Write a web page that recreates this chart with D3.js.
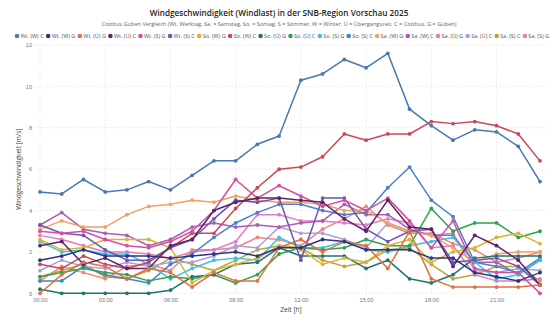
<!DOCTYPE html>
<html>
<head>
<meta charset="utf-8">
<script src="https://cdn.jsdelivr.net/npm/d3@7"></script>
<style>
  html, body { margin: 0; padding: 0; background: #fff; }
  svg { display: block; font-family: "Segoe UI", "Open Sans", "Noto Sans", sans-serif; }
</style>
</head>
<body>
<div class="chart"></div>
<script>
const hours = d3.range(24);
const hourLabels = ["00:00", "03:00", "06:00", "09:00", "12:00", "15:00", "18:00", "21:00"];
const yTicks = [0, 2, 4, 6, 8, 10, 12];

const seriesNames = [
    "Wt. (W) C", "Wt. (W) G", "Wt. (Ü) G", "Wt. (Ü) C", "Wt. (S) G", "Wt. (S) C",
    "So. (W) G", "So. (W) C", "So. (Ü) G", "So. (Ü) C", "So. (S) G", "So. (S) C",
    "Sa. (W) G", "Sa. (W) C", "Sa. (Ü) G", "Sa. (Ü) C", "Sa. (S) C", "Sa. (S) G"
];

const colors = [
    "#4878b4", "#2c3582", "#e07040", "#5c2468", "#d64f9e", "#6f55b0",
    "#dcb435", "#cf4655", "#26736e", "#2ea44c", "#3cc0e6", "#4a80cc",
    "#f2a064", "#ac5cb4", "#e878c0", "#aaa0e0", "#c2a232", "#f08484"
];

const wtWC = [4.9, 4.8, 5.5, 4.9, 5.0, 5.4, 5.0, 5.7, 6.4, 6.4, 7.2, 7.6, 10.3, 10.6, 11.3, 10.9, 11.6, 8.9, 8.1, 7.4, 7.9, 7.8, 7.1, 5.4];
const wtWG = [1.6, 1.8, 2.1, 1.8, 1.8, 1.8, 1.7, 1.8, 1.9, 2.0, 1.8, 2.2, 2.2, 2.6, 2.5, 2.1, 2.1, 2.1, 1.7, 1.7, 1.0, 0.8, 0.6, 1.0];
const wtUG = [0.0, 0.9, 1.5, 1.3, 0.7, 1.2, 1.0, 0.3, 1.0, 0.6, 0.6, 2.2, 2.6, 2.0, 2.5, 2.3, 1.2, 3.0, 0.7, 0.3, 0.3, 0.3, 0.3, 0.4];
const wtUC = [2.3, 2.5, 1.4, 1.7, 1.2, 1.2, 2.3, 2.6, 4.0, 4.4, 4.6, 4.6, 4.5, 4.4, 3.6, 3.0, 4.5, 3.2, 3.1, 1.3, 2.8, 2.3, 1.6, 0.4];
const wtSG = [3.0, 2.9, 3.0, 2.6, 2.3, 2.2, 2.5, 3.0, 4.0, 5.5, 4.6, 5.2, 4.7, 4.2, 4.5, 4.0, 4.6, 3.5, 2.2, 3.5, 1.2, 1.0, 1.0, 0.0];
const wtSC = [3.3, 2.9, 2.8, 2.1, 1.6, 1.6, 2.2, 2.6, 3.6, 4.5, 4.4, 4.6, 1.6, 4.6, 4.6, 3.1, 2.5, 3.0, 3.1, 1.5, 1.6, 1.7, 1.3, 0.4];
const soWG = [2.6, 2.1, 2.2, 2.6, 2.6, 2.6, 2.2, 0.5, 1.1, 1.4, 1.7, 2.3, 2.1, 1.4, 1.7, 1.5, 2.3, 2.6, 1.5, 2.0, 2.2, 2.7, 2.9, 2.4];
const soWC = [1.4, 1.2, 1.8, 1.4, 1.2, 1.5, 2.2, 2.9, 2.9, 4.1, 5.1, 6.0, 6.1, 6.6, 7.7, 7.4, 7.7, 7.7, 8.3, 8.2, 8.3, 8.1, 7.7, 6.4];
const soUG = [0.2, 0.0, 0.0, 0.0, 0.0, 0.0, 0.15, 0.8, 0.9, 1.4, 1.5, 2.2, 1.8, 1.8, 1.8, 1.2, 1.6, 0.7, 0.5, 0.9, 1.7, 1.8, 1.8, 1.8];
const soUC = [0.8, 1.0, 1.2, 1.0, 0.9, 0.6, 0.8, 0.7, 0.9, 0.5, 0.9, 1.9, 2.2, 2.1, 2.2, 2.6, 2.3, 2.3, 4.1, 3.0, 3.4, 3.4, 2.7, 3.0];
const soSG = [2.5, 2.0, 2.1, 1.9, 1.9, 1.4, 0.7, 1.2, 1.6, 1.7, 1.6, 2.7, 2.2, 2.2, 2.5, 2.1, 2.0, 2.3, 2.5, 2.7, 1.5, 0.7, 0.9, 1.6];
const soSC = [0.6, 0.6, 1.3, 0.9, 0.7, 0.5, 1.4, 1.9, 2.7, 3.4, 3.9, 4.3, 4.3, 4.0, 3.8, 3.9, 5.1, 6.1, 4.5, 3.7, 1.5, 1.3, 1.0, 1.7];
const saWG = [3.1, 3.5, 3.2, 3.2, 3.8, 4.2, 4.3, 4.5, 4.4, 4.7, 4.5, 4.4, 4.4, 4.3, 4.0, 4.0, 3.4, 3.0, 2.8, 2.2, 1.5, 1.9, 2.0, 2.0];
const saWC = [3.3, 3.9, 3.1, 2.9, 2.8, 2.3, 2.6, 3.2, 3.4, 3.2, 3.3, 3.2, 3.4, 3.5, 4.3, 3.8, 3.8, 3.1, 2.8, 2.8, 1.5, 1.5, 0.9, 1.6];
const saUG = [2.8, 2.6, 2.3, 2.0, 2.0, 1.9, 1.7, 2.0, 2.1, 2.5, 3.8, 3.8, 3.5, 3.5, 3.4, 3.3, 3.6, 3.4, 2.2, 2.3, 0.9, 0.6, 0.6, 0.7];
const saUC = [1.1, 1.6, 1.3, 1.2, 1.5, 1.3, 1.5, 1.5, 1.8, 2.3, 2.2, 3.2, 2.9, 2.9, 2.6, 2.2, 3.4, 3.0, 2.8, 2.9, 1.1, 1.0, 1.2, 1.1];
const saSC = [0.8, 1.1, 1.4, 0.8, 0.7, 1.1, 1.7, 1.4, 1.1, 1.6, 2.1, 2.3, 2.2, 1.6, 1.3, 1.5, 2.1, 2.2, 1.4, 0.7, 0.9, 1.3, 1.3, 0.6];
const saSG = [0.6, 1.3, 1.0, 0.7, 1.3, 1.4, 1.1, 2.1, 2.1, 2.2, 2.7, 2.6, 2.3, 3.1, 3.6, 4.2, 3.3, 2.9, 2.9, 2.4, 2.1, 1.5, 1.7, 2.0];

const seriesValues = [wtWC, wtWG, wtUG, wtUC, wtSG, wtSC, soWG, soWC, soUG, soUC, soSG, soSC, saWG, saWC, saUG, saUC, saSC, saSG];

const series = seriesNames.map((name, i) => ({
    name,
    color: colors[i],
    values: seriesValues[i].map((v, h) => ({ h, v }))
}));

const width = 560;
const height = 324;

const svg = d3.select(".chart")
    .append("svg")
    .attr("width", width)
    .attr("height", height);

const x = d3.scaleLinear().domain([0, 23]).range([40, 540]);
const y = d3.scaleLinear().domain([0, 12]).range([293.3, 45]);

// titles
svg.append("text")
    .attr("x", 279)
    .attr("y", 16)
    .attr("text-anchor", "middle")
    .attr("font-size", 8.2)
    .attr("font-weight", 600)
    .attr("fill", "#252423")
    .text("Windgeschwindigkeit (Windlast) in der SNB-Region Vorschau 2025");

svg.append("text")
    .attr("x", 279)
    .attr("y", 26)
    .attr("text-anchor", "middle")
    .attr("font-size", 5.6)
    .attr("fill", "#666")
    .text("Cottbus Guben Vergleich (Wt. Werktag, Sa. = Samstag, So. = Sontag, S = Sommer, W = Winter, Ü = Übergangszeit, C = Cottbus, G = Guben)");

// legend
const legend = svg.append("g").attr("font-size", 5.5).attr("fill", "#555");
const items = legend.selectAll("g")
    .data(series)
    .join("g");
items.append("circle").attr("r", 2.3).attr("cy", 0).attr("fill", d => d.color);
items.append("text").attr("x", 3.5).attr("dy", "0.35em").text(d => d.name);

const widths = [];
items.each(function () {
    widths.push(3.5 + d3.select(this).select("text").node().getComputedTextLength());
});
const legendStart = 17;
const legendEnd = 549;
const gap = (legendEnd - legendStart - d3.sum(widths)) / (series.length - 1);
let cursor = legendStart;
items.attr("transform", (d, i) => {
    const t = `translate(${cursor},36)`;
    cursor += widths[i] + gap;
    return t;
});

// grid
const grid = svg.append("g")
    .attr("stroke", "#d8d8d8")
    .attr("stroke-width", 0.8)
    .attr("stroke-dasharray", "1,2");

grid.selectAll("line.h")
    .data(yTicks)
    .join("line")
    .attr("class", "h")
    .attr("x1", 35)
    .attr("x2", 547)
    .attr("y1", d => y(d))
    .attr("y2", d => y(d));

grid.selectAll("line.v")
    .data(hourLabels.map((d, i) => i * 3))
    .join("line")
    .attr("class", "v")
    .attr("x1", d => x(d))
    .attr("x2", d => x(d))
    .attr("y1", y(12))
    .attr("y2", y(0));

// axes
const yAxis = svg.append("g")
    .attr("transform", "translate(35,0)")
    .call(d3.axisLeft(y).tickValues(yTicks).tickSize(0).tickPadding(3));
yAxis.select(".domain").remove();
yAxis.selectAll("text").attr("font-size", 5.6).attr("fill", "#777").attr("font-family", null);

const xAxis = svg.append("g")
    .attr("transform", `translate(0,${y(0) + 2})`)
    .call(d3.axisBottom(x)
        .tickValues(hourLabels.map((d, i) => i * 3))
        .tickFormat((d, i) => hourLabels[i])
        .tickSize(0)
        .tickPadding(3));
xAxis.select(".domain").remove();
xAxis.selectAll("text").attr("font-size", 5.6).attr("fill", "#777").attr("font-family", null);

svg.append("text")
    .attr("x", 291)
    .attr("y", 312)
    .attr("text-anchor", "middle")
    .attr("font-size", 6.5)
    .attr("fill", "#444")
    .text("Zeit [h]");

svg.append("text")
    .attr("transform", `translate(21,${y(6)}) rotate(-90)`)
    .attr("text-anchor", "middle")
    .attr("font-size", 6.5)
    .attr("fill", "#444")
    .text("Windgeschwindigkeit [m/s]");

// lines
const line = d3.line()
    .x(d => x(d.h))
    .y(d => y(d.v));

const plot = svg.append("g");

const groups = plot.selectAll("g.series")
    .data(series.slice().reverse())
    .join("g")
    .attr("class", "series");

groups.append("path")
    .attr("d", d => line(d.values))
    .attr("fill", "none")
    .attr("stroke", d => d.color)
    .attr("stroke-width", 1.5)
    .attr("stroke-linejoin", "round");

groups.selectAll("circle")
    .data(d => d.values.map(p => ({ ...p, color: d.color })))
    .join("circle")
    .attr("cx", d => x(d.h))
    .attr("cy", d => y(d.v))
    .attr("r", 1.9)
    .attr("fill", d => d.color);
</script>
</body>
</html>
